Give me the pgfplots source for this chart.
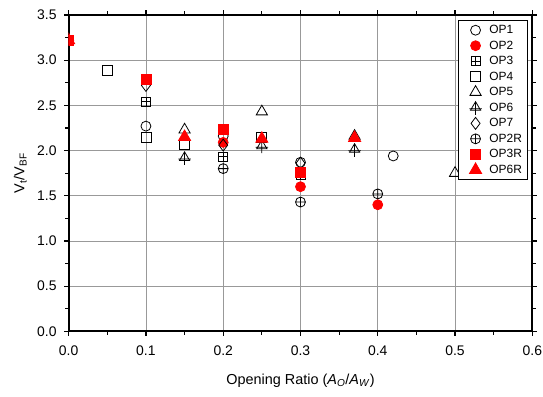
\documentclass[border=0pt]{standalone}
\usepackage{pgfplots}
\pgfplotsset{compat=1.18}
\usepackage{fontspec}
\setmainfont{Liberation Sans}
\pgfdeclareplotmark{sqplus}{%
  \pgfpathrectangle{\pgfpoint{-\pgfplotmarksize}{-\pgfplotmarksize}}{\pgfpoint{2\pgfplotmarksize}{2\pgfplotmarksize}}%
  \pgfpathmoveto{\pgfpoint{-\pgfplotmarksize}{0pt}}\pgfpathlineto{\pgfpoint{\pgfplotmarksize}{0pt}}%
  \pgfpathmoveto{\pgfpoint{0pt}{-\pgfplotmarksize}}\pgfpathlineto{\pgfpoint{0pt}{\pgfplotmarksize}}%
  \pgfusepathqstroke}
\pgfdeclareplotmark{triplus}{%
  \pgfpathmoveto{\pgfpoint{0pt}{\pgfplotmarksize}}%
  \pgfpathlineto{\pgfpoint{-0.85\pgfplotmarksize}{-0.45\pgfplotmarksize}}%
  \pgfpathlineto{\pgfpoint{0.85\pgfplotmarksize}{-0.45\pgfplotmarksize}}%
  \pgfpathclose
  \pgfpathmoveto{\pgfpoint{-1.05\pgfplotmarksize}{-0.2\pgfplotmarksize}}\pgfpathlineto{\pgfpoint{1.05\pgfplotmarksize}{-0.2\pgfplotmarksize}}%
  \pgfpathmoveto{\pgfpoint{0pt}{\pgfplotmarksize}}\pgfpathlineto{\pgfpoint{0pt}{-1.2\pgfplotmarksize}}%
  \pgfusepathqstroke}
\begin{document}
\begin{tikzpicture}
\begin{axis}[
  scale only axis, width=466bp, height=318bp,
  xmin=0, xmax=0.6, ymin=0, ymax=3.5,
  xtick={0,0.1,...,0.6}, ytick={0,0.5,...,3.5},
  minor xtick={0.05,0.15,...,0.55}, minor ytick={0.25,0.75,...,3.25},
  xticklabel style={/pgf/number format/.cd,fixed,fixed zerofill,precision=1, /tikz/yshift=-9bp},
  yticklabel style={/pgf/number format/.cd,fixed,fixed zerofill,precision=1, /tikz/xshift=-6.5bp},
  /pgf/number format/assume math mode=true,
  tick label style={font=\fontsize{14bp}{16bp}\selectfont, inner sep=1bp},
  label style={font=\fontsize{14.5bp}{16bp}\selectfont},
  tick align=outside,
  major tick length=4.5bp, minor tick length=3.5bp,
  tick style={black, line width=1.2bp},
  axis line style={line width=1.8bp},
  grid=major, major grid style={gray!80, line width=0.8bp},
  xlabel={Opening Ratio (\textit{A}\textsubscript{\textit{O}}/\textit{A}\textsubscript{\textit{W}})},
  ylabel={V\textsubscript{t}/V\textsubscript{BF}},
  xlabel style={yshift=-14bp},
  ylabel style={yshift=6bp},
  clip marker paths=true,
  legend style={at={(0.989,0.984)}, anchor=north east, draw=black, line width=0.7bp,
    font=\fontsize{12bp}{13bp}\selectfont, row sep=1.7bp, inner xsep=3bp, inner ysep=3bp,
    legend cell align=left},
  legend image code/.code={\path[draw=none] (-0.5cm,0cm) -- (0.42cm,0cm); \draw[only marks] plot coordinates {(0cm,0cm)};},
  every axis plot/.append style={only marks, line width=0.8bp},
]
\addplot[mark=o, mark size=5bp, black] coordinates {(0,3.22) (0.1,2.27) (0.2,2.16) (0.3,1.87) (0.42,1.94)};
\addlegendentry{OP1}
\addplot[mark=*, mark size=5bp, red, mark options={fill=red}] coordinates {(0,3.22) (0.2,2.09) (0.3,1.60) (0.4,1.40)};
\addlegendentry{OP2}
\addplot[mark=sqplus, mark size=4.5bp, black] coordinates {(0.1,2.54) (0.2,1.93) (0.3,1.73)};
\addlegendentry{OP3}
\addplot[mark=square, mark size=5bp, black] coordinates {(0.05,2.89) (0.1,2.14) (0.15,2.07) (0.25,2.14)};
\addlegendentry{OP4}
\addplot[mark=triangle, mark size=6.5bp, black] coordinates {(0.15,2.23) (0.25,2.43) (0.37,2.16) (0.5,1.75)};
\addlegendentry{OP5}
\addplot[mark=triplus, mark size=6bp, black] coordinates {(0.15,1.92) (0.25,2.05) (0.37,2.01)};
\addlegendentry{OP6}
\addplot[mark=diamond, mark size=6bp, black] coordinates {(0.1,2.72) (0.2,2.06) (0.3,1.86)};
\addlegendentry{OP7}
\addplot[mark=oplus, mark size=5bp, black] coordinates {(0.2,1.80) (0.3,1.43) (0.4,1.52)};
\addlegendentry{OP2R}
\addplot[mark=square*, mark size=5bp, red, mark options={fill=red}] coordinates {(0,3.22) (0.1,2.79) (0.2,2.23) (0.3,1.76)};
\addlegendentry{OP3R}
\addplot[mark=triangle*, mark size=7bp, red, mark options={fill=red}] coordinates {(0,3.22) (0.15,2.15) (0.25,2.13) (0.37,2.14)};
\addlegendentry{OP6R}
\end{axis}
\path (current axis.north east) ++(8bp,15bp);
\path (current axis.south west) ++(-69bp,-65bp);
\end{tikzpicture}
\end{document}
